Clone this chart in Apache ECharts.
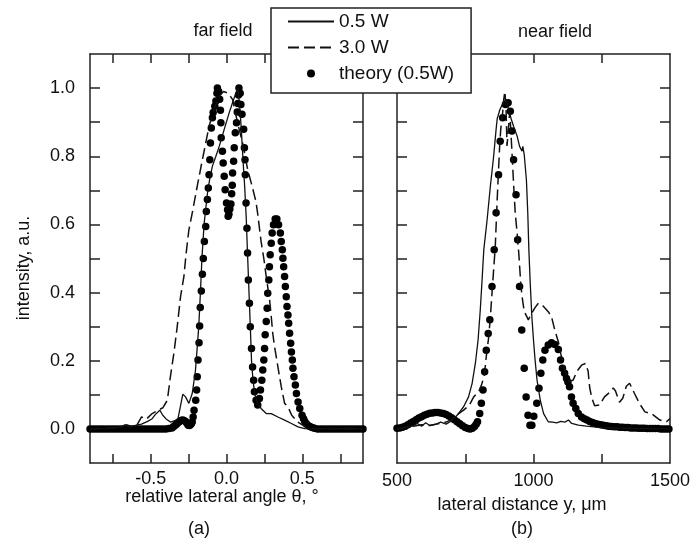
<!DOCTYPE html>
<html>
<head>
<meta charset="utf-8">
<title>far field / near field</title>
<script src="https://cdn.jsdelivr.net/npm/echarts@6/dist/echarts.min.js"></script>
<style>
	html, body { margin: 0; padding: 0; background: #fff; }
	#chart { width: 700px; height: 546px; }
</style>
</head>
<body>
<div id="chart"></div>
<script>
var FONT = '"Liberation Sans", Arial, sans-serif';

// far field, x = relative lateral angle (deg)
var farSolid = [[-0.9,0.0],[-0.85,0.002],[-0.8,0.0],[-0.75,0.003],[-0.7,0.005],[-0.67,0.012],[-0.64,0.006],[-0.6,0.01],[-0.56,0.014],[-0.52,0.022],[-0.49,0.03],[-0.47,0.042],[-0.44,0.055],[-0.42,0.04],[-0.4,0.03],[-0.37,0.02],[-0.34,0.024],[-0.32,0.03],[-0.3,0.075],[-0.288,0.102],[-0.27,0.094],[-0.248,0.075],[-0.226,0.104],[-0.205,0.17],[-0.193,0.24],[-0.183,0.3],[-0.172,0.4],[-0.162,0.5],[-0.148,0.6],[-0.126,0.69],[-0.11,0.735],[-0.093,0.771],[-0.07,0.8],[-0.048,0.829],[-0.015,0.879],[0.018,0.928],[0.04,0.957],[0.062,0.986],[0.076,1.0],[0.09,0.93],[0.1,0.86],[0.11,0.78],[0.12,0.71],[0.13,0.62],[0.139,0.51],[0.145,0.44],[0.151,0.37],[0.157,0.3],[0.165,0.2],[0.175,0.14],[0.188,0.1],[0.206,0.075],[0.228,0.06],[0.262,0.045],[0.295,0.045],[0.339,0.035],[0.383,0.026],[0.428,0.016],[0.471,0.006],[0.516,0.001],[0.6,0.0],[0.7,0.002],[0.8,0.0],[0.9,0.0]];
var farDashed = [[-0.9,0.0],[-0.85,0.0],[-0.8,0.003],[-0.75,0.002],[-0.7,0.005],[-0.66,0.012],[-0.62,0.006],[-0.59,0.012],[-0.56,0.035],[-0.53,0.028],[-0.49,0.045],[-0.45,0.055],[-0.42,0.062],[-0.39,0.084],[-0.37,0.153],[-0.347,0.222],[-0.325,0.3],[-0.303,0.388],[-0.281,0.447],[-0.266,0.516],[-0.248,0.584],[-0.226,0.633],[-0.193,0.712],[-0.159,0.79],[-0.137,0.839],[-0.115,0.888],[-0.082,0.937],[-0.048,0.976],[-0.02,0.99],[0.01,0.985],[0.04,0.967],[0.073,0.898],[0.106,0.839],[0.14,0.76],[0.173,0.705],[0.195,0.665],[0.206,0.63],[0.217,0.59],[0.228,0.55],[0.246,0.5],[0.262,0.447],[0.284,0.379],[0.295,0.33],[0.305,0.28],[0.317,0.241],[0.339,0.182],[0.361,0.124],[0.383,0.075],[0.405,0.065],[0.43,0.04],[0.47,0.02],[0.52,0.006],[0.6,0.0],[0.7,0.0],[0.8,0.002],[0.9,0.0]];
var farTheory = [[-0.9,0],[-0.88,0],[-0.86,0],[-0.84,0],[-0.82,0],[-0.8,0],[-0.78,0],[-0.76,0],[-0.74,0],[-0.72,0],[-0.7,0],[-0.68,0],[-0.66,0],[-0.64,0],[-0.62,0],[-0.6,0],[-0.58,0],[-0.56,0],[-0.54,0],[-0.52,0],[-0.5,0],[-0.48,0],[-0.46,0],[-0.44,0],[-0.42,0],[-0.4,0],[-0.38,0.001],
	[-0.36,0.003],[-0.35,0.006],[-0.34,0.01],[-0.33,0.014],[-0.32,0.018],[-0.31,0.022],[-0.3,0.025],[-0.29,0.026],[-0.28,0.025],[-0.27,0.022],[-0.26,0.016],[-0.252,0.011],[-0.245,0.01],[-0.238,0.012],[-0.232,0.015],[-0.226,0.02],[-0.22,0.035],[-0.214,0.055],[-0.203,0.084],[-0.197,0.114],[-0.193,0.153],[-0.188,0.202],[-0.181,0.253],[-0.177,0.302],[-0.173,0.356],[-0.166,0.405],[-0.159,0.454],[-0.153,0.5],[-0.146,0.55],[-0.137,0.594],[-0.133,0.638],[-0.126,0.673],[-0.12,0.707],[-0.115,0.746],[-0.11,0.79],[-0.106,0.839],[-0.1,0.883],[-0.093,0.913],[-0.088,0.928],[-0.077,0.947],[-0.07,0.962],[-0.063,0.985],[-0.06,1.0],[-0.052,0.99],[-0.045,0.967],[-0.04,0.935],[-0.037,0.898],[-0.035,0.854],[-0.027,0.815],[-0.022,0.78],[-0.015,0.741],[-0.009,0.702],[0,0.663],[0.007,0.643],[0.011,0.624],[0.016,0.63],[0.022,0.645],[0.029,0.66],[0.034,0.69],[0.038,0.715],[0.04,0.751],[0.047,0.785],[0.051,0.825],[0.058,0.869],[0.066,0.898],[0.071,0.93],[0.075,0.955],[0.079,0.98],[0.082,1.0],[0.09,0.985],[0.095,0.952],[0.102,0.923],[0.113,0.879],[0.118,0.825],[0.122,0.79],[0.124,0.746],[0.129,0.663],[0.135,0.589],[0.139,0.516],[0.144,0.437],[0.151,0.369],[0.157,0.3],[0.165,0.236],[0.172,0.182],[0.179,0.143],[0.184,0.109],[0.195,0.084],[0.206,0.07],[0.217,0.089],[0.224,0.114],[0.233,0.143],[0.239,0.173],[0.246,0.202],[0.251,0.236],[0.255,0.276],[0.262,0.315],[0.268,0.354],[0.272,0.398],[0.279,0.437],[0.283,0.476],[0.288,0.511],[0.295,0.545],[0.301,0.575],[0.31,0.599],[0.321,0.616],[0.332,0.616],[0.343,0.599],[0.355,0.575],[0.361,0.55],[0.368,0.526],[0.372,0.501],[0.377,0.476],[0.383,0.447],[0.388,0.418],[0.394,0.388],[0.399,0.359],[0.405,0.334],[0.41,0.31],[0.416,0.281],[0.423,0.251],[0.428,0.226],[0.434,0.202],[0.438,0.178],[0.445,0.153],[0.454,0.129],[0.461,0.104],[0.472,0.079],[0.483,0.06],[0.498,0.04],[0.508,0.03],[0.516,0.022],[0.527,0.015],[0.538,0.01],[0.55,0.007],[0.564,0.004],[0.58,0.002],
	[0.6,0],[0.62,0],[0.64,0],[0.66,0],[0.68,0],[0.7,0],[0.72,0],[0.74,0],[0.76,0],[0.78,0],[0.8,0],[0.82,0],[0.84,0],[0.86,0],[0.88,0],[0.9,0]];

// near field, x = lateral distance (um)
var nearSolid = [[500,0.0],[520,0.003],[540,0.006],[560,0.01],[575,0.016],[590,0.008],[605,0.018],[620,0.01],[640,0.013],[660,0.02],[680,0.014],[700,0.024],[720,0.04],[744,0.065],[762,0.094],[775,0.133],[787,0.192],[797,0.261],[805,0.349],[811,0.428],[818,0.526],[830,0.613],[842,0.712],[854,0.8],[863,0.879],[867,0.91],[877,0.937],[889,0.957],[901,0.967],[909,0.937],[918,0.91],[927,0.888],[940,0.859],[949,0.829],[958,0.815],[961,0.829],[966,0.805],[974,0.731],[979,0.634],[983,0.526],[988,0.428],[994,0.329],[1000,0.26],[1006,0.2],[1013,0.143],[1025,0.084],[1037,0.045],[1054,0.021],[1070,0.02],[1085,0.018],[1100,0.022],[1115,0.02],[1128,0.026],[1140,0.016],[1164,0.011],[1194,0.008],[1250,0.004],[1300,0.002],[1400,0.001],[1500,0.0]];
var nearDashed = [[500,0.0],[530,0.004],[560,0.008],[590,0.012],[620,0.01],[650,0.015],[680,0.02],[705,0.03],[726,0.045],[744,0.055],[765,0.07],[781,0.094],[799,0.109],[810,0.13],[820,0.158],[827,0.212],[836,0.27],[842,0.329],[848,0.398],[854,0.467],[860,0.535],[864,0.614],[867,0.673],[872,0.761],[876,0.829],[880,0.879],[887,0.928],[891,0.967],[895,0.99],[899,0.95],[903,0.83],[908,0.88],[913,0.93],[918,0.86],[927,0.72],[933,0.634],[940,0.575],[946,0.516],[950,0.467],[954,0.418],[960,0.378],[966,0.345],[975,0.33],[981,0.32],[993,0.339],[1005,0.355],[1018,0.369],[1036,0.36],[1054,0.344],[1066,0.329],[1078,0.29],[1091,0.256],[1100,0.22],[1115,0.17],[1130,0.14],[1145,0.143],[1160,0.17],[1176,0.187],[1190,0.192],[1200,0.17],[1206,0.12],[1214,0.09],[1224,0.068],[1242,0.07],[1260,0.094],[1280,0.108],[1292,0.12],[1300,0.112],[1315,0.078],[1327,0.09],[1340,0.125],[1352,0.134],[1370,0.104],[1388,0.075],[1408,0.05],[1432,0.045],[1463,0.026],[1487,0.021],[1500,0.03]];
var nearTheory = [[500,0.002],[510,0.003],[520,0.005],[530,0.008],[540,0.012],[550,0.017],[560,0.022],[570,0.027],[580,0.032],[590,0.036],[600,0.04],[610,0.043],[620,0.046],[630,0.047],[640,0.048],[650,0.048],[660,0.047],[670,0.045],[680,0.042],[690,0.038],[700,0.033],[710,0.027],[720,0.021],[730,0.015],[740,0.009],[750,0.004],[760,0.001],[768,0.0],[776,0.002],[784,0.007],[790,0.014],[795,0.021],[803,0.045],[809,0.075],[815,0.114],[821,0.168],[827,0.231],[834,0.28],[840,0.32],[848,0.418],[856,0.526],[863,0.634],[872,0.746],[878,0.844],[887,0.913],[897,0.952],[907,0.957],[915,0.932],[921,0.874],[927,0.79],[936,0.687],[942,0.555],[949,0.418],[957,0.29],[966,0.178],[973,0.094],[980,0.04],[987,0.011],[994,0.011],[1001,0.037],[1012,0.075],[1020,0.119],[1027,0.163],[1034,0.202],[1042,0.231],[1054,0.246],[1066,0.253],[1078,0.248],[1091,0.233],[1099,0.202],[1106,0.178],[1114,0.163],[1121,0.148],[1126,0.138],[1132,0.124],[1139,0.094],[1145,0.075],[1155,0.06],[1164,0.045],[1176,0.035],[1186,0.03],[1196,0.026],[1206,0.022],[1216,0.019],[1226,0.016],[1236,0.014],[1246,0.012],[1256,0.011],[1266,0.009],[1276,0.008],[1286,0.007],[1296,0.006],[1306,0.006],[1316,0.005],[1326,0.005],[1336,0.004],[1346,0.004],[1356,0.003],[1366,0.003],[1376,0.003],[1386,0.002],[1396,0.002],[1406,0.002],[1416,0.001],[1426,0.001],[1436,0.001],[1446,0.001],[1456,0.001],[1466,0.0],[1476,0.0],[1486,0.0],[1496,0.0]];

// ticks and labels
var farTicks = [-0.75, -0.5, -0.25, 0, 0.25, 0.5, 0.75];
var farLabels = [-0.5, 0, 0.5];
var nearTicks = [750, 1000, 1250];
var nearLabels = [500, 1000, 1500];
var yTicks = [0, 0.1, 0.2, 0.3, 0.4, 0.5, 0.6, 0.7, 0.8, 0.9, 1.0];
var yLabels = [0, 0.2, 0.4, 0.6, 0.8, 1.0];
var seriesNames = ['0.5 W', '3.0 W', 'theory (0.5W)'];

function makeXAxis(grid, pos, min, max, ticks, labels, fmt, margin){
	return {
		type: 'value',
		gridIndex: grid,
		position: pos,
		min: min,
		max: max,
		axisLine: { onZero: false, lineStyle: { color: '#222', width: 1.5 } },
		axisTick: { inside: true, length: 9, customValues: ticks, lineStyle: { color: '#222', width: 1.5 } },
		axisLabel: {
			show: labels != null,
			customValues: labels || [],
			margin: margin,
			fontSize: 18,
			fontFamily: FONT,
			color: '#111',
			formatter: fmt
		},
		splitLine: { show: false }
	};
}
function makeYAxis(grid, pos, showLabels){
	return {
		type: 'value',
		gridIndex: grid,
		position: pos,
		min: -0.1,
		max: 1.1,
		axisLine: { onZero: false, lineStyle: { color: '#222', width: 1.5 } },
		axisTick: { inside: true, length: 10, customValues: yTicks, lineStyle: { color: '#222', width: 1.5 } },
		axisLabel: {
			show: showLabels,
			customValues: yLabels,
			margin: 15,
			fontSize: 18,
			fontFamily: FONT,
			color: '#111',
			formatter: function(v){ return v.toFixed(1); }
		},
		splitLine: { show: false }
	};
}
function farFmt(v){
	return v === 0 ? '0.0' : String(v);
}
function nearFmt(v){
	return String(v);
}
function makeSeries(idx){
	var data = idx < 2 ? [farSolid, farDashed, farTheory] : [nearSolid, nearDashed, nearTheory];
	var xi = idx < 2 ? 0 : 2;
	var yi = idx < 2 ? 0 : 2;
	return [{
		name: seriesNames[0],
		type: 'line',
		xAxisIndex: xi,
		yAxisIndex: yi,
		symbol: 'none',
		itemStyle: { color: '#111' },
		lineStyle: { color: '#111', width: 1.3 },
		data: data[0]
	},{
		name: seriesNames[1],
		type: 'line',
		xAxisIndex: xi,
		yAxisIndex: yi,
		symbol: 'none',
		itemStyle: { color: '#111' },
		lineStyle: { color: '#111', width: 1.5, type: [11, 5] },
		data: data[1]
	},{
		name: seriesNames[2],
		type: 'scatter',
		xAxisIndex: xi,
		yAxisIndex: yi,
		symbol: 'circle',
		symbolSize: 7.5,
		itemStyle: { color: '#000', opacity: 1 },
		data: data[2]
	}];
}
function textEl(txt, x, y, rot){
	return {
		type: 'text',
		x: x,
		y: y,
		rotation: rot || 0,
		z: 10,
		style: {
			text: txt,
			font: '18px ' + FONT,
			fill: '#111',
			textAlign: 'center',
			textVerticalAlign: 'middle'
		}
	};
}

var chart = echarts.init(document.getElementById('chart'), null, { renderer: 'canvas' });
var option = {
	animation: false,
	backgroundColor: '#fff',
	grid: [
		{ left: 90, top: 54, width: 273, height: 409 },
		{ left: 397, top: 54, width: 273, height: 409 }
	],
	xAxis: [
		makeXAxis(0, 'bottom', -0.9, 0.9, farTicks, farLabels, farFmt, 7),
		makeXAxis(0, 'top', -0.9, 0.9, farTicks, null, null, 0),
		makeXAxis(1, 'bottom', 500, 1500, nearTicks, nearLabels, nearFmt, 9),
		makeXAxis(1, 'top', 500, 1500, nearTicks, null, null, 0)
	],
	yAxis: [
		makeYAxis(0, 'left', true),
		makeYAxis(0, 'right', false),
		makeYAxis(1, 'left', false),
		makeYAxis(1, 'right', false)
	],
	legend: {
		data: [
			{ name: seriesNames[0], itemStyle: { opacity: 0 } },
			{ name: seriesNames[1], itemStyle: { opacity: 0 } },
			{ name: seriesNames[2] }
		],
		orient: 'vertical',
		left: 271,
		top: 8,
		padding: [4, 17, 10, 16],
		itemGap: 7,
		itemWidth: 46,
		itemHeight: 8,
		selectedMode: false,
		backgroundColor: '#fff',
		borderColor: '#222',
		borderWidth: 1.5,
		textStyle: { fontSize: 19, fontFamily: FONT, color: '#111' }
	},
	graphic: [
		textEl('far field', 223, 31),
		textEl('near field', 555, 32),
		textEl('intensity, a.u.', 24, 268, Math.PI / 2),
		textEl('relative lateral angle θ, °', 222, 497),
		textEl('lateral distance y, μm', 522, 505),
		textEl('(a)', 199, 529),
		textEl('(b)', 522, 529)
	],
	series: makeSeries(0).concat(makeSeries(2))
};
chart.setOption(option);
</script>
</body>
</html>
